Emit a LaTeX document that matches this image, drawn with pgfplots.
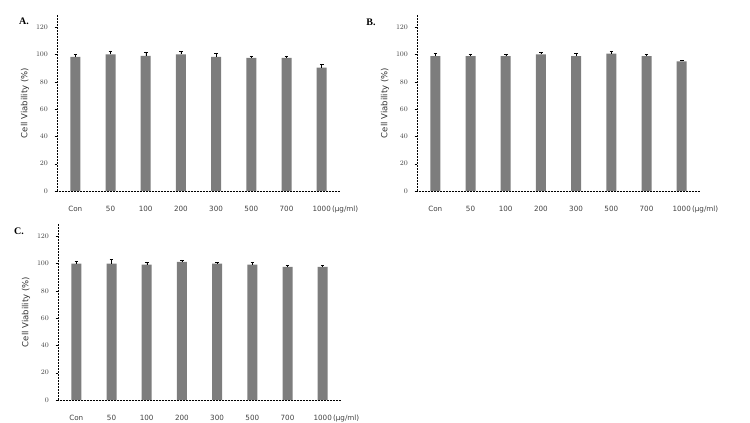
\documentclass[border=0pt]{standalone}
\usepackage{pgfplots}
\pgfplotsset{compat=1.18}
\usepackage{fontspec}
\setmainfont{DejaVu Sans}
\newfontfamily\letterfont{Liberation Serif}

\definecolor{bargray}{RGB}{125,125,125}

\pgfplotsset{cellbar/.style={
    scale only axis, width=283pt, height=176pt,
    anchor=south west,
    ymin=0, ymax=129, xmin=-0.52, xmax=7.52,
    axis x line=bottom, axis y line=left,
    axis line style={-, densely dotted, line width=0.5pt},
    ytick={0,20,...,120},
    xtick={0,...,7},
    xticklabels={Con,50,100,200,300,500,700,{\rlap{1000\,(\textmu g/ml)}\phantom{1000}}},
    x tick style={draw=none},
    y tick style={black, line width=0.4pt},
    tick align=outside, major tick length=2.5pt,
    ticklabel style={font=\fontsize{7.2}{8}\selectfont, text=black!75},
    xticklabel style={yshift=-9pt},
    yticklabel style={xshift=-3pt},
    ylabel={Cell Viability (\%)},
    every axis y label/.style={at={(axis description cs:0,0.5)}, xshift=-32pt,
        rotate=90, anchor=center, font=\fontsize{8.5}{9}\selectfont, text=black!80},
    ybar, bar width=10pt,
    clip=false,
    error bars/y dir=plus, error bars/y explicit,
    error bars/error bar style={black, line width=0.4pt},
    error bars/error mark options={rotate=90, mark size=1.8pt, line width=0.4pt, black},
}}

\begin{document}
\begin{tikzpicture}
\path[use as bounding box] (0pt,0pt) rectangle (750pt,423pt);

% A
\begin{axis}[cellbar, at={(57pt,232pt)}]
\addplot[fill=bargray, draw=none] coordinates {
  (0,98.3) +- (0,2) (1,100.2) +- (0,2.5) (2,99.0) +- (0,3) (3,100.2) +- (0,2)
  (4,98.3) +- (0,2.5) (5,97.6) +- (0,1.5) (6,97.6) +- (0,1.5) (7,90.5) +- (0,2.5)};
\end{axis}

% B
\begin{axis}[cellbar, at={(417pt,232pt)}]
\addplot[fill=bargray, draw=none] coordinates {
  (0,98.8) +- (0,2) (1,98.8) +- (0,1.5) (2,98.8) +- (0,1.5) (3,100.2) +- (0,1.5)
  (4,98.8) +- (0,2) (5,100.7) +- (0,2) (6,98.8) +- (0,1.5) (7,95.0) +- (0,1)};
\end{axis}

% C
\begin{axis}[cellbar, at={(58pt,23pt)}]
\addplot[fill=bargray, draw=none] coordinates {
  (0,100.0) +- (0,1.5) (1,100.0) +- (0,3) (2,99.3) +- (0,2) (3,101.2) +- (0,1.5)
  (4,100.0) +- (0,1) (5,99.3) +- (0,2) (6,97.5) +- (0,1) (7,97.5) +- (0,1)};
\end{axis}

\node[font=\fontsize{10}{11}\selectfont\letterfont\bfseries] at (24pt,401.5pt) {A.};
\node[font=\fontsize{10}{11}\selectfont\letterfont\bfseries] at (371pt,401pt) {B.};
\node[font=\fontsize{10}{11}\selectfont\letterfont\bfseries] at (19pt,192pt) {C.};
\end{tikzpicture}
\end{document}
